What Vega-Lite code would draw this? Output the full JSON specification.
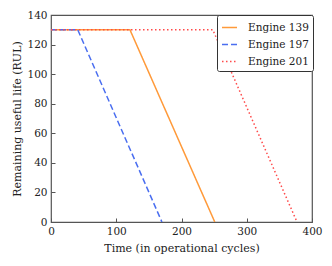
{
  "$schema": "https://vega.github.io/schema/vega-lite/v6.json",
  "autosize": "none",
  "width": 261,
  "height": 207,
  "padding": {"left": 51, "top": 15, "right": 20, "bottom": 44},
  "background": "white",
  "config": {
    "font": "DejaVu Serif",
    "view": {"stroke": "#555555", "strokeWidth": 1.2},
    "axis": {
      "domain": false,
      "grid": false,
      "ticks": true,
      "tickSize": -4,
      "tickColor": "#555555",
      "labelFont": "DejaVu Serif",
      "labelFontSize": 10.5,
      "labelColor": "#222222",
      "titleFont": "DejaVu Serif",
      "titleFontSize": 11,
      "titleFontWeight": "normal",
      "titleColor": "#222222",
      "labelFlush": false
    },
    "legend": {
      "labelFont": "DejaVu Serif",
      "labelFontSize": 10.5,
      "labelColor": "#222222"
    }
  },
  "data": {
    "values": [
      {"engine": "Engine 139", "t": 0, "rul": 130},
      {"engine": "Engine 139", "t": 121, "rul": 130},
      {"engine": "Engine 139", "t": 251, "rul": 0},
      {"engine": "Engine 197", "t": 0, "rul": 130},
      {"engine": "Engine 197", "t": 41, "rul": 130},
      {"engine": "Engine 197", "t": 170, "rul": 0},
      {"engine": "Engine 201", "t": 0, "rul": 130},
      {"engine": "Engine 201", "t": 248, "rul": 130},
      {"engine": "Engine 201", "t": 377, "rul": 0}
    ]
  },
  "mark": {"type": "line", "strokeWidth": 1.5, "clip": true},
  "encoding": {
    "x": {
      "field": "t", "type": "quantitative",
      "scale": {"domain": [0, 400], "nice": false},
      "axis": {"values": [0, 100, 200, 300, 400], "title": "Time (in operational cycles)", "labelPadding": 8, "titleY": 20}
    },
    "y": {
      "field": "rul", "type": "quantitative",
      "scale": {"domain": [0, 140], "nice": false},
      "axis": {"values": [0, 20, 40, 60, 80, 100, 120, 140], "title": "Remaining useful life (RUL)", "labelPadding": 8, "titleX": -29}
    },
    "color": {
      "field": "engine", "type": "nominal",
      "scale": {"domain": ["Engine 139", "Engine 197", "Engine 201"], "range": ["#ff9a3a", "#4a6ef0", "#ff4a4a"]},
      "legend": {
        "title": null,
        "orient": "none",
        "legendX": 166,
        "legendY": 0,
        "symbolType": "stroke",
        "symbolSize": 225,
        "symbolStrokeWidth": 1.5,
        "labelOffset": 10,
        "rowPadding": 3,
        "padding": 4,
        "fillColor": "white",
        "strokeColor": "#333333",
        "cornerRadius": 2
      }
    },
    "strokeDash": {
      "field": "engine", "type": "nominal",
      "scale": {"domain": ["Engine 139", "Engine 197", "Engine 201"], "range": [[1, 0], [6, 3], [1.5, 2.5]]},
      "legend": {
        "title": null,
        "orient": "none",
        "legendX": 166,
        "legendY": 0,
        "symbolType": "stroke",
        "symbolSize": 225,
        "symbolStrokeWidth": 1.5,
        "labelOffset": 10,
        "rowPadding": 3,
        "padding": 4,
        "fillColor": "white",
        "strokeColor": "#333333",
        "cornerRadius": 2
      }
    }
  }
}
